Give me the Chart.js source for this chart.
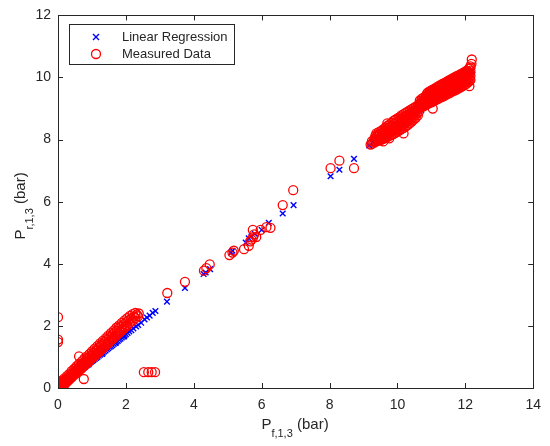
<!DOCTYPE html>
<html>
<head>
<meta charset="utf-8">
<script src="https://cdn.jsdelivr.net/npm/chart.js@4"></script>
<style>
  body { margin: 0; background: #fff; }
  #wrap { width: 550px; height: 446px; }
</style>
</head>
<body>
<div id="wrap"><canvas id="fitChart" width="550" height="446"></canvas></div>
<script>
// axis ticks
const xTicks = [0, 2, 4, 6, 8, 10, 12, 14];
const yTicks = [0, 2, 4, 6, 8, 10, 12];

const measuredLow = [
    [0.00,0.02],[0.01,0.08],[0.02,0.15],[0.03,0.04],[0.05,0.10],[0.06,0.00],[0.08,0.06],[0.10,0.14],
    [0.11,0.03],[0.13,0.12],[0.15,0.20],[0.16,0.09],[0.18,0.17],[0.20,0.25],[0.22,0.15],[0.24,0.28],
    [0.25,0.21],[0.28,0.30],[0.30,0.24],[0.32,0.36],[0.34,0.30],[0.36,0.41],[0.38,0.33],[0.40,0.45],
    [0.42,0.38],[0.45,0.50],[0.47,0.42],[0.50,0.55],[0.52,0.47],[0.55,0.60],[0.57,0.52],[0.60,0.65],
    [0.62,0.56],[0.65,0.71],[0.67,0.61],[0.70,0.76],[0.72,0.66],[0.75,0.81],[0.77,0.72],[0.80,0.86],
    [0.82,0.76],[0.85,0.92],[0.87,0.81],[0.90,0.97],[0.92,0.86],[0.95,1.03],[0.97,0.92],[1.00,1.08],
    [1.02,0.97],[1.05,1.13],[1.07,1.02],[1.10,1.19],[1.12,1.07],[1.15,1.24],[1.18,1.13],[1.20,1.30],
    [1.23,1.18],[1.26,1.36],[1.28,1.24],[1.31,1.41],[1.34,1.30],[1.37,1.48],[1.40,1.36],[1.43,1.54],
    [1.46,1.42],[1.49,1.60],[1.52,1.49],[1.55,1.66],[1.58,1.55],[1.61,1.73],[1.64,1.61],[1.67,1.79],
    [1.70,1.68],[1.73,1.85],[1.76,1.74],[1.80,1.92],[1.83,1.81],[1.87,1.99],[1.90,1.88],[1.94,2.06],
    [1.97,1.95],[2.01,2.12],[2.04,2.02],[2.08,2.18],[2.12,2.10],[2.16,2.24],[2.20,2.17],[2.24,2.30],
    [2.28,2.25],[2.32,2.36],[2.36,2.31],[2.38,2.40],
    [0.05,0.20],[0.12,0.24],[0.18,0.30],[0.26,0.38],[0.33,0.45],[0.40,0.54],[0.48,0.62],[0.55,0.70],
    [0.62,0.78],[0.70,0.86],[0.78,0.95],[0.85,1.02],[0.93,1.10],[1.00,1.18],[1.08,1.27],[1.16,1.35],
    [1.24,1.44],[1.32,1.52],[1.40,1.60],[1.48,1.69],[1.56,1.77],[1.64,1.85],[1.72,1.94],[1.80,2.02],
    [1.88,2.10],[1.96,2.18],[2.04,2.25],[2.12,2.32],[2.20,2.38],[2.28,2.42],
    [0.10,0.02],[0.18,0.10],[0.26,0.20],[0.34,0.28],[0.42,0.36],[0.50,0.45],[0.58,0.54],[0.66,0.62],
    [0.74,0.70],[0.82,0.79],[0.90,0.87],[0.98,0.95],[1.06,1.03],[1.14,1.11],[1.22,1.19],[1.30,1.27],
    [1.38,1.35],[1.46,1.43],[1.54,1.51],[1.62,1.59],[1.70,1.67],[1.78,1.75],[1.86,1.83],[1.94,1.91],
    [2.02,1.99],
    [0.00,2.28],[0.00,1.56],[0.00,1.48],[0.62,1.02],[0.76,0.29],
    [2.53,0.51],[2.66,0.51],[2.76,0.51],[2.86,0.51]
];
const measuredMid = [
    [3.22,3.06],[3.74,3.42],[4.30,3.78],[4.37,3.86],[4.47,3.98],[5.05,4.28],[5.14,4.36],[5.18,4.42],
    [5.48,4.47],[5.62,4.58],[5.66,4.72],[5.70,4.78],[5.75,4.86],[5.84,4.86],[5.78,4.95],[5.74,5.09],
    [5.97,5.09],[6.14,5.18],[6.26,5.16],[6.62,5.89],[6.93,6.37],[8.03,7.08],[8.29,7.32],[8.72,7.08],
    [9.21,7.84]
];
const measuredHigh = [
    [9.25,7.86],[9.25,7.95],[9.32,7.90],[9.32,8.02],[9.38,7.94],[9.38,8.08],[9.38,8.20],
    [9.45,7.97],[9.45,8.10],[9.45,8.24],[9.52,7.99],[9.52,8.12],[9.52,8.28],
    [9.58,7.94],[9.58,8.02],[9.58,8.16],[9.58,8.33],[9.64,8.05],[9.64,8.20],[9.64,8.38],
    [9.70,8.08],[9.70,8.24],[9.70,8.44],[9.70,8.52],[9.76,8.04],[9.76,8.12],[9.76,8.30],[9.76,8.48],
    [9.82,8.15],[9.82,8.34],[9.82,8.54],[9.88,8.18],[9.88,8.38],[9.88,8.60],
    [9.94,8.22],[9.94,8.42],[9.94,8.64],[10.00,8.26],[10.00,8.46],[10.00,8.68],
    [10.06,8.30],[10.06,8.50],[10.06,8.72],[10.12,8.34],[10.12,8.55],[10.12,8.78],
    [10.18,8.20],[10.18,8.38],[10.18,8.60],[10.18,8.82],[10.24,8.42],[10.24,8.64],[10.24,8.86],
    [10.30,8.47],[10.30,8.68],[10.30,8.90],[10.36,8.52],[10.36,8.73],[10.36,8.94],
    [10.42,8.58],[10.42,8.78],[10.42,8.98],[10.48,8.64],[10.48,8.84],[10.48,9.02],
    [10.54,8.70],[10.54,8.90],[10.54,9.06],[10.60,8.78],[10.60,8.96],[10.60,9.10],
    [10.66,9.02],[10.66,9.14],[10.66,9.26],[10.72,9.05],[10.72,9.18],[10.72,9.32],
    [10.78,9.08],[10.78,9.22],[10.78,9.36],[10.84,9.12],[10.84,9.26],[10.84,9.40],
    [10.90,9.15],[10.90,9.29],[10.90,9.44],[10.90,9.52],[10.96,9.18],[10.96,9.32],[10.96,9.46],[10.96,9.56],
    [11.02,9.21],[11.02,9.35],[11.02,9.49],[11.02,9.60],[11.04,9.00],
    [11.08,9.25],[11.08,9.38],[11.08,9.52],[11.08,9.63],[11.14,9.28],[11.14,9.41],[11.14,9.55],[11.14,9.67],
    [11.20,9.31],[11.20,9.45],[11.20,9.59],[11.20,9.71],[11.26,9.35],[11.26,9.48],[11.26,9.62],[11.26,9.75],
    [11.32,9.38],[11.32,9.51],[11.32,9.66],[11.32,9.79],[11.38,9.41],[11.38,9.55],[11.38,9.70],[11.38,9.82],
    [11.44,9.45],[11.44,9.58],[11.44,9.73],[11.44,9.86],[11.50,9.48],[11.50,9.62],[11.50,9.77],[11.50,9.90],
    [11.56,9.51],[11.56,9.65],[11.56,9.80],[11.56,9.93],[11.62,9.55],[11.62,9.69],[11.62,9.84],[11.62,9.97],
    [11.68,9.58],[11.68,9.72],[11.68,9.87],[11.68,10.00],[11.74,9.61],[11.74,9.76],[11.74,9.91],[11.74,10.04],
    [11.80,9.65],[11.80,9.79],[11.80,9.94],[11.80,10.07],[11.86,9.68],[11.86,9.83],[11.86,9.98],[11.86,10.11],
    [11.92,9.72],[11.92,9.86],[11.92,10.01],[11.92,10.14],[11.98,9.76],[11.98,9.90],[11.98,10.05],[11.98,10.18],
    [12.04,9.80],[12.04,9.94],[12.04,10.09],[12.04,10.22],[12.10,9.86],[12.10,9.99],[12.10,10.14],[12.10,10.28],
    [12.15,9.92],[12.15,10.06],[12.15,10.22],[12.15,10.36],[12.18,10.44],[12.19,10.58],[12.12,9.72]
];
// extra circles in between, where the reference is solid red
const measuredHighFill = [
    [9.29,7.93],[9.35,7.98],[9.35,8.12],[9.41,8.02],[9.41,8.15],[9.48,8.04],[9.48,8.18],[9.55,8.06],
    [9.55,8.22],[9.61,8.10],[9.61,8.27],[9.67,8.14],[9.67,8.32],[9.73,8.18],[9.73,8.38],[9.79,8.22],
    [9.79,8.42],[9.85,8.26],[9.85,8.46],[9.91,8.30],[9.91,8.52],[9.97,8.34],[9.97,8.56],[10.03,8.38],
    [10.03,8.60],[10.09,8.42],[10.09,8.64],[10.15,8.46],[10.15,8.68],[10.21,8.52],[10.21,8.74],
    [10.27,8.56],[10.27,8.78],[10.33,8.60],[10.33,8.82],[10.39,8.66],[10.39,8.86],[10.45,8.72],
    [10.45,8.92],[10.51,8.78],[10.51,8.96],[10.57,8.84],[10.57,9.00],[10.63,8.90],[10.63,9.06],
    [10.69,9.08],[10.69,9.22],[10.75,9.11],[10.75,9.26],[10.81,9.15],[10.81,9.30],[10.87,9.20],
    [10.87,9.36],[10.87,9.48],[10.93,9.22],[10.93,9.38],[10.93,9.50],[10.99,9.28],[10.99,9.42],
    [10.99,9.54],[11.05,9.30],[11.05,9.45],[11.05,9.58],[11.11,9.32],[11.11,9.47],[11.11,9.60],
    [11.17,9.36],[11.17,9.52],[11.17,9.66],[11.23,9.40],[11.23,9.55],[11.23,9.69],[11.29,9.44],
    [11.29,9.58],[11.29,9.72],[11.35,9.46],[11.35,9.62],[11.35,9.76],[11.41,9.50],[11.41,9.65],
    [11.41,9.78],[11.47,9.53],[11.47,9.68],[11.47,9.83],[11.53,9.56],[11.53,9.72],[11.53,9.86],
    [11.59,9.60],[11.59,9.76],[11.59,9.90],[11.65,9.63],[11.65,9.79],[11.65,9.93],[11.71,9.66],
    [11.71,9.82],[11.71,9.97],[11.77,9.70],[11.77,9.86],[11.77,10.00],[11.83,9.73],[11.83,9.90],
    [11.83,10.04],[11.89,9.78],[11.89,9.93],[11.89,10.08],[11.95,9.81],[11.95,9.96],[11.95,10.12],
    [12.01,9.85],[12.01,10.02],[12.01,10.16],[12.07,9.90],[12.07,10.06],[12.07,10.20],[12.13,9.96],
    [12.13,10.12],[12.13,10.30]
];

// linear regression output [Pf, Pr]
const regressionLow = [
    [0.00,0.12],[0.03,0.16],[0.06,0.19],[0.10,0.22],
    [0.00,0.01],[0.04,0.05],[0.08,0.08],[0.12,0.11],[0.16,0.15],[0.20,0.18],[0.24,0.21],[0.28,0.25],
    [0.32,0.28],[0.36,0.32],[0.40,0.35],[0.44,0.39],[0.48,0.42],[0.50,0.45],[0.52,0.45],[0.56,0.49],
    [0.60,0.52],[0.64,0.56],[0.68,0.59],[0.72,0.63],[0.76,0.66],[0.80,0.69],[0.84,0.73],[0.88,0.76],
    [0.90,0.76],[0.92,0.80],[0.96,0.83],[1.00,0.87],[1.04,0.90],[1.08,0.94],[1.12,0.97],[1.16,1.00],
    [1.20,1.04],[1.24,1.07],[1.28,1.11],[1.30,1.10],[1.32,1.14],[1.36,1.18],[1.40,1.21],[1.44,1.25],
    [1.48,1.28],[1.52,1.32],[1.56,1.35],[1.60,1.38],[1.64,1.42],[1.68,1.45],[1.70,1.45],[1.72,1.49],
    [1.76,1.52],[1.80,1.56],[1.84,1.59],[1.88,1.63],[1.92,1.66],[1.95,1.66],[1.96,1.70],[2.00,1.73],
    [2.05,1.77],[2.10,1.82],[2.16,1.86],[2.22,1.92],[2.30,1.98],[2.36,2.03],[2.45,2.10],[2.55,2.21],
    [2.62,2.27],[2.70,2.33],[2.79,2.42],[2.87,2.48],[3.21,2.78]
];
const regressionMid = [
    [3.74,3.22],[4.29,3.67],[4.35,3.72],[4.48,3.83],[5.10,4.36],[5.14,4.42],[5.53,4.68],[5.62,4.82],
    [5.70,4.88],[5.80,4.96],[6.00,5.09],[6.21,5.32],[6.62,5.62],[6.94,5.89],[8.03,6.82],[8.29,7.03],
    [8.72,7.38]
];
const regressionHigh = [
    [9.17,7.81],[9.30,7.89],[9.48,7.96],[9.60,8.06],[9.75,8.18],[9.90,8.30],[10.05,8.42],[10.18,8.52],
    [10.26,8.58],[10.40,8.70],[10.52,8.80],[10.60,8.84],[10.70,8.95],[10.85,9.08],[11.00,9.20],[11.15,9.33],
    [11.30,9.46],[11.45,9.58],[11.60,9.71],[11.75,9.83],[11.90,9.96],[12.05,10.08],[12.16,10.20],[12.21,10.23]
];

const toPts = arr => arr.map(p => ({ x: p[0], y: p[1] }));
const measured = toPts([...measuredLow, ...measuredMid, ...measuredHigh, ...measuredHighFill]);
const regression = toPts([...regressionLow, ...regressionMid, ...regressionHigh]);

const INK = "#262626";
const FONT = "'Liberation Sans', Arial, sans-serif";

// draw a label like P_{f,1,3} (bar)
function subLabel(ctx, main, sub, rest, x, y) {
    ctx.font = `15px ${FONT}`;
    const w1 = ctx.measureText(main).width;
    const w3 = ctx.measureText(rest).width;
    ctx.font = `11px ${FONT}`;
    const w2 = ctx.measureText(sub).width;
    let cx = x - (w1 + w2 + w3) / 2;
    ctx.textAlign = "left";
    ctx.textBaseline = "alphabetic";
    ctx.font = `15px ${FONT}`;
    ctx.fillText(main, cx, y);
    cx += w1;
    ctx.font = `11px ${FONT}`;
    ctx.fillText(sub, cx, y + 8);
    cx += w2;
    ctx.font = `15px ${FONT}`;
    ctx.fillText(rest, cx, y);
}

const framePlugin = {
    id: "frame",
    afterDraw(chart) {
        const { ctx, chartArea: a, scales } = chart;
        ctx.save();
        ctx.strokeStyle = INK;
        ctx.lineWidth = 1;
        ctx.strokeRect(Math.round(a.left) + 0.5, Math.round(a.top) + 0.5,
            Math.round(a.right - a.left), Math.round(a.bottom - a.top));

        // inward ticks on all four sides
        const t = 5;
        ctx.beginPath();
        xTicks.forEach(v => {
            const px = Math.round(scales.x.getPixelForValue(v)) + 0.5;
            ctx.moveTo(px, a.bottom); ctx.lineTo(px, a.bottom - t);
            ctx.moveTo(px, a.top); ctx.lineTo(px, a.top + t);
        });
        yTicks.forEach(v => {
            const py = Math.round(scales.y.getPixelForValue(v)) + 0.5;
            ctx.moveTo(a.left, py); ctx.lineTo(a.left + t, py);
            ctx.moveTo(a.right, py); ctx.lineTo(a.right - t, py);
        });
        ctx.stroke();

        // axis titles
        ctx.fillStyle = INK;
        subLabel(ctx, "P", "f,1,3", " (bar)", 295, 429);
        ctx.save();
        ctx.translate(25, 206);
        ctx.rotate(-Math.PI / 2);
        subLabel(ctx, "P", "r,1,3", " (bar)", 0, 0);
        ctx.restore();

        // legend box
        ctx.fillStyle = "#fff";
        ctx.fillRect(69.5, 24.5, 165, 40);
        ctx.strokeStyle = INK;
        ctx.lineWidth = 1;
        ctx.strokeRect(69.5, 24.5, 165, 40);

        ctx.strokeStyle = "#0000ff";
        ctx.lineWidth = 1.4;
        ctx.beginPath();
        ctx.moveTo(93, 34); ctx.lineTo(99, 40);
        ctx.moveTo(99, 34); ctx.lineTo(93, 40);
        ctx.stroke();

        ctx.strokeStyle = "#ff0000";
        ctx.lineWidth = 1.3;
        ctx.beginPath();
        ctx.arc(96, 54, 4.5, 0, Math.PI * 2);
        ctx.stroke();

        ctx.fillStyle = INK;
        ctx.font = `13px ${FONT}`;
        ctx.textAlign = "left";
        ctx.textBaseline = "middle";
        ctx.fillText("Linear Regression", 122, 37);
        ctx.fillText("Measured Data", 122, 54);
        ctx.restore();
    }
};

const ctx = document.getElementById("fitChart").getContext("2d");
new Chart(ctx, {
    type: "scatter",
    data: {
        datasets: [{
            label: "Linear Regression",
            data: regression,
            order: 1,
            pointStyle: "crossRot",
            pointRadius: 4,
            borderWidth: 1.4,
            borderColor: "#0000ff",
            backgroundColor: "#0000ff"
        }, {
            label: "Measured Data",
            data: measured,
            order: 0,
            pointStyle: "circle",
            pointRadius: 4.5,
            borderWidth: 1.3,
            borderColor: "#ff0000",
            backgroundColor: "rgba(0,0,0,0)"
        }]
    },
    options: {
        responsive: false,
        animation: false,
        devicePixelRatio: 1,
        layout: { padding: { left: 0, right: 14, top: 13, bottom: 0 } },
        plugins: {
            legend: { display: false },
            tooltip: { enabled: false }
        },
        scales: {
            x: {
                type: "linear",
                min: 0, max: 14,
                afterFit: s => { s.height = 58; },
                afterBuildTicks: s => { s.ticks = xTicks.map(v => ({ value: v })); },
                grid: { display: false, drawTicks: false },
                border: { display: false },
                ticks: { color: INK, font: { family: FONT, size: 14 }, padding: 9, maxRotation: 0 }
            },
            y: {
                type: "linear",
                min: 0, max: 12,
                afterFit: s => { s.width = 58; },
                afterBuildTicks: s => { s.ticks = yTicks.map(v => ({ value: v })); },
                grid: { display: false, drawTicks: false },
                border: { display: false },
                ticks: { color: INK, font: { family: FONT, size: 14 }, padding: 7 }
            }
        }
    },
    plugins: [framePlugin]
});
</script>
</body>
</html>
